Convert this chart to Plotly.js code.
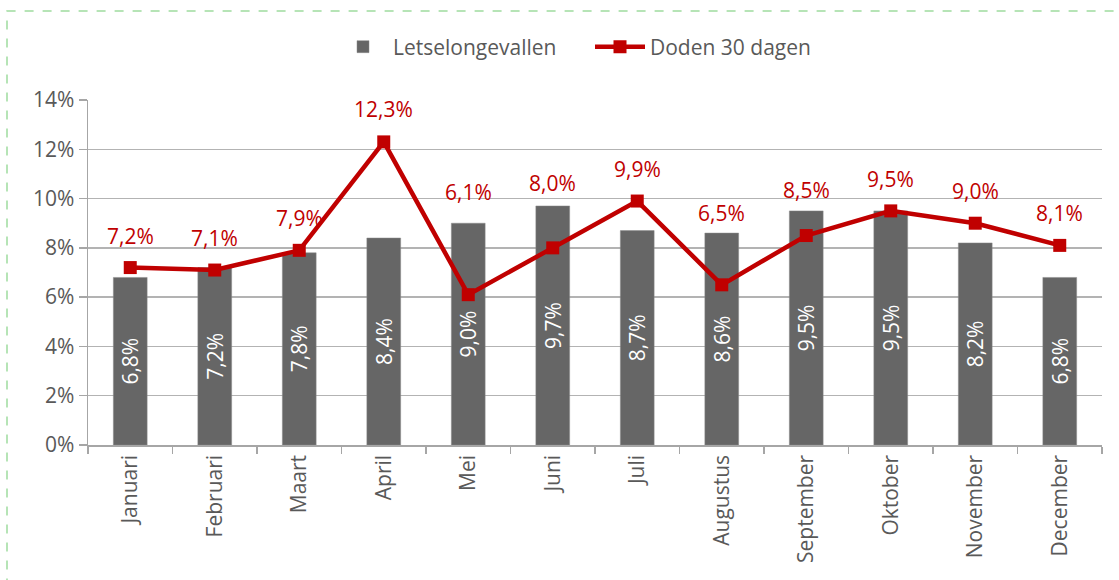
<!DOCTYPE html>
<html>
<head>
<meta charset="utf-8">
<script src="https://cdn.plot.ly/plotly-3.0.1.min.js"></script>
<style>
  html, body { margin: 0; padding: 0; background: #fff; }
  #chart { width: 1119px; height: 580px; }
</style>
</head>
<body>
<div id="chart"></div>
<script>
const months = ["Januari","Februari","Maart","April","Mei","Juni","Juli","Augustus","September","Oktober","November","December"];
const letselongevallen = [6.8, 7.2, 7.8, 8.4, 9.0, 9.7, 8.7, 8.6, 9.5, 9.5, 8.2, 6.8];
const doden30 = [7.2, 7.1, 7.9, 12.3, 6.1, 8.0, 9.9, 6.5, 8.5, 9.5, 9.0, 8.1];
const yTicks = [0, 2, 4, 6, 8, 10, 12, 14];
// pixel offsets of the red data labels above their markers (label placement only)
const labelOffsets = [32, 32, 32, 33, 103, 65, 32, 72, 46, 32, 32, 32];

const fmt = v => v.toFixed(1).replace('.', ',') + '%';
const FONT = "'Open Sans', 'Noto Sans', sans-serif";
const GRAY = '#595959';
const RED = '#C00000';
const FS = 21;

const bars = {
  type: 'bar',
  name: 'Letselongevallen',
  x: months,
  y: letselongevallen,
  width: 0.4,
  marker: { color: '#666666', line: { color: '#8a8a8a', width: 0.5 } },
  text: letselongevallen.map(fmt),
  textposition: 'inside',
  insidetextanchor: 'middle',
  textangle: -90,
  constraintext: 'none',
  textfont: { color: '#ffffff', size: FS, family: FONT },
  hoverinfo: 'skip'
};

const line = {
  type: 'scatter',
  mode: 'lines+markers',
  name: 'Doden 30 dagen',
  x: months,
  y: doden30,
  line: { color: RED, width: 4.5 },
  marker: { color: RED, symbol: 'square', size: 13 },
  hoverinfo: 'skip'
};

const annotations = months.map((m, i) => ({
  x: m, y: doden30[i], xref: 'x', yref: 'y',
  text: fmt(doden30[i]), showarrow: false,
  yshift: labelOffsets[i], yanchor: 'middle', xanchor: 'center',
  font: { color: RED, size: FS, family: FONT }
}));

const layout = {
  width: 1119, height: 580,
  margin: { l: 88, r: 17, t: 100, b: 135 },
  paper_bgcolor: '#ffffff',
  plot_bgcolor: '#ffffff',
  font: { family: FONT, color: GRAY, size: FS },
  showlegend: true,
  legend: {
    orientation: 'h',
    xref: 'container', yref: 'container',
    x: 333 / 1119, xanchor: 'left',
    y: 1 - 47 / 580, yanchor: 'middle',
    font: { size: FS, color: GRAY, family: FONT },
    itemwidth: 50,
    entrywidth: 192,
    entrywidthmode: 'pixels',
    traceorder: 'normal'
  },
  xaxis: {
    type: 'category',
    range: [-0.5, 11.5],
    autorange: false,
    tickangle: -90,
    showgrid: false,
    showline: true, linecolor: '#A6A6A6', linewidth: 1.5,
    ticks: 'outside', tickson: 'boundaries', ticklen: 7, tickcolor: '#A6A6A6', tickwidth: 1.5,
    tickfont: { size: FS, color: GRAY, family: FONT },
    automargin: false,
    fixedrange: true
  },
  yaxis: {
    range: [0, 14],
    autorange: false,
    tickvals: yTicks,
    ticktext: yTicks.map(v => v + '%'),
    showgrid: true, gridcolor: '#B3B3B3', gridwidth: 1.5,
    showline: true, linecolor: '#A6A6A6', linewidth: 1.5,
    ticks: 'outside', ticklen: 8, tickcolor: '#A6A6A6', tickwidth: 1.5,
    tickfont: { size: FS, color: GRAY, family: FONT },
    zeroline: false,
    automargin: false,
    fixedrange: true
  },
  annotations: annotations,
  shapes: [{
    type: 'rect', xref: 'paper', yref: 'paper',
    x0: (7 - 88) / 1014, x1: 1.2,
    y0: -1, y1: (445 - 11) / 345,
    line: { color: '#9FDC9F', width: 1.5, dash: 'dash' },
    fillcolor: 'rgba(0,0,0,0)',
    layer: 'below'
  }]
};

Plotly.newPlot('chart', [bars, line], layout, { displayModeBar: false, staticPlot: true });
</script>
</body>
</html>
